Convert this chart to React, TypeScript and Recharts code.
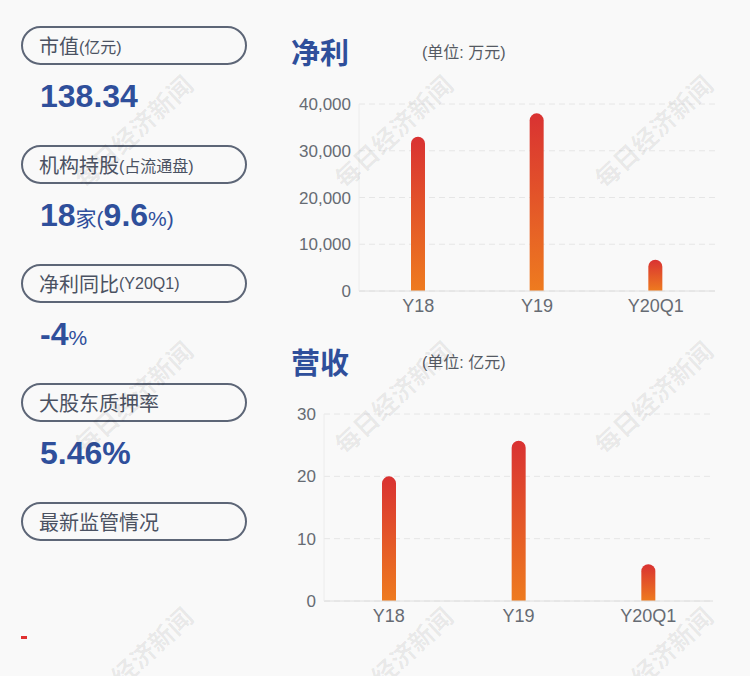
import React from 'react';
import { BarChart, Bar, XAxis, YAxis, CartesianGrid } from 'recharts';

const categories = ['Y18', 'Y19', 'Y20Q1'];
const profitValues = [33000, 38000, 6700];
const revenueValues = [20, 25.7, 5.9];
const profitTicks = [0, 10000, 20000, 30000, 40000];
const revenueTicks = [0, 10, 20, 30];

const profitData = categories.map((name, i) => ({ name, value: profitValues[i] }));
const revenueData = categories.map((name, i) => ({ name, value: revenueValues[i] }));

const FONT = '"Liberation Sans", "Noto Sans CJK SC", sans-serif';
const BLUE = '#2f4f9b';
const PILL_TEXT = '#4b5262';
const TICK = '#666b73';

function Pill({ top, children }: { top: number; children: React.ReactNode }) {
  return (
    <div
      style={{
        position: 'absolute',
        left: 21,
        top,
        width: 226,
        height: 39,
        border: '2px solid #5d6677',
        borderRadius: 20,
        display: 'flex',
        alignItems: 'center',
        paddingLeft: 16,
        boxSizing: 'border-box',
        color: PILL_TEXT,
        fontSize: 20,
        whiteSpace: 'nowrap',
      }}
    >
      {children}
    </div>
  );
}

function Value({ top, children }: { top: number; children: React.ReactNode }) {
  return (
    <div
      style={{
        position: 'absolute',
        left: 40,
        top,
        color: BLUE,
        fontSize: 32,
        fontWeight: 'bold',
        whiteSpace: 'nowrap',
        lineHeight: '40px',
      }}
    >
      {children}
    </div>
  );
}

const small = { fontSize: 16 };
const mid = { fontSize: 21, fontWeight: 'normal' as const };

function Gradient({ id }: { id: string }) {
  return (
    <defs>
      <linearGradient id={id} x1="0" y1="0" x2="0" y2="1">
        <stop offset="0%" stopColor="#d93232" />
        <stop offset="100%" stopColor="#ee7b1f" />
      </linearGradient>
    </defs>
  );
}

const watermarks = [
  [134, 132], [394, 132], [654, 132],
  [134, 398], [394, 398], [654, 398],
  [134, 664], [394, 664], [654, 664],
];

export default function App() {
  return (
    <div
      style={{
        position: 'fixed',
        left: 0,
        top: 0,
        width: 750,
        height: 676,
        background: '#f9f9f9',
        fontFamily: FONT,
        overflow: 'hidden',
      }}
    >
      <Pill top={26}>
        市值<span style={small}>(亿元)</span>
      </Pill>
      <Value top={76}>138.34</Value>

      <Pill top={145}>
        机构持股<span style={small}>(占流通盘)</span>
      </Pill>
      <Value top={195}>
        18<span style={mid}>家</span>
        <span style={mid}>(</span>9.6<span style={mid}>%)</span>
      </Value>

      <Pill top={264}>
        净利同比<span style={small}>(Y20Q1)</span>
      </Pill>
      <Value top={314}>
        -4<span style={mid}>%</span>
      </Value>

      <Pill top={383}>大股东质押率</Pill>
      <Value top={433}>5.46%</Value>

      <Pill top={502}>最新监管情况</Pill>

      <div style={{ position: 'absolute', left: 21, top: 636, width: 6, height: 3, background: '#e03030' }} />

      {/* 净利 */}
      <div style={{ position: 'absolute', left: 291, top: 30, fontSize: 29, fontWeight: 'bold', color: BLUE }}>净利</div>
      <div style={{ position: 'absolute', left: 422, top: 39, fontSize: 16, color: '#555a63' }}>(单位: 万元)</div>
      <div style={{ position: 'absolute', left: 280, top: 90 }}>
        <BarChart width={440} height={240} data={profitData} margin={{ top: 14, right: 5, bottom: 9, left: 9 }}>
          <Gradient id="gradProfit" />
          <CartesianGrid vertical={false} stroke="#e6e6e6" strokeDasharray="6 4" />
          <XAxis
            dataKey="name"
            height={30}
            tickLine={false}
            axisLine={{ stroke: '#dedede' }}
            tick={{ fill: TICK, fontSize: 18 }}
          />
          <YAxis
            width={70}
            domain={[0, 40000]}
            ticks={profitTicks}
            tickLine={false}
            axisLine={{ stroke: '#ececec' }}
            tick={{ fill: TICK, fontSize: 17 }}
            tickFormatter={(v: number) => v.toLocaleString('en-US')}
          />
          <Bar dataKey="value" barSize={14} radius={[7, 7, 0, 0]} fill="url(#gradProfit)" isAnimationActive={false} />
        </BarChart>
      </div>

      {/* 营收 */}
      <div style={{ position: 'absolute', left: 291, top: 340, fontSize: 29, fontWeight: 'bold', color: BLUE }}>营收</div>
      <div style={{ position: 'absolute', left: 422, top: 349, fontSize: 16, color: '#555a63' }}>(单位: 亿元)</div>
      <div style={{ position: 'absolute', left: 280, top: 400 }}>
        <BarChart width={440} height={240} data={revenueData} margin={{ top: 14, right: 7, bottom: 9, left: 4 }}>
          <Gradient id="gradRevenue" />
          <CartesianGrid vertical={false} stroke="#e6e6e6" strokeDasharray="6 4" />
          <XAxis
            dataKey="name"
            height={30}
            tickLine={false}
            axisLine={{ stroke: '#dedede' }}
            tick={{ fill: TICK, fontSize: 18 }}
          />
          <YAxis
            width={40}
            domain={[0, 30]}
            ticks={revenueTicks}
            tickLine={false}
            axisLine={{ stroke: '#ececec' }}
            tick={{ fill: TICK, fontSize: 17 }}
          />
          <Bar dataKey="value" barSize={14} radius={[7, 7, 0, 0]} fill="url(#gradRevenue)" isAnimationActive={false} />
        </BarChart>
      </div>

      {watermarks.map(([x, y], i) => (
        <div
          key={i}
          style={{
            position: 'absolute',
            left: x - 90,
            top: y - 15,
            width: 180,
            height: 30,
            textAlign: 'center',
            fontSize: 25,
            fontWeight: 'bold',
            color: 'rgba(0,0,0,0.07)',
            transform: 'rotate(-43deg)',
            pointerEvents: 'none',
            whiteSpace: 'nowrap',
            lineHeight: '30px',
          }}
        >
          每日经济新闻
        </div>
      ))}
    </div>
  );
}
